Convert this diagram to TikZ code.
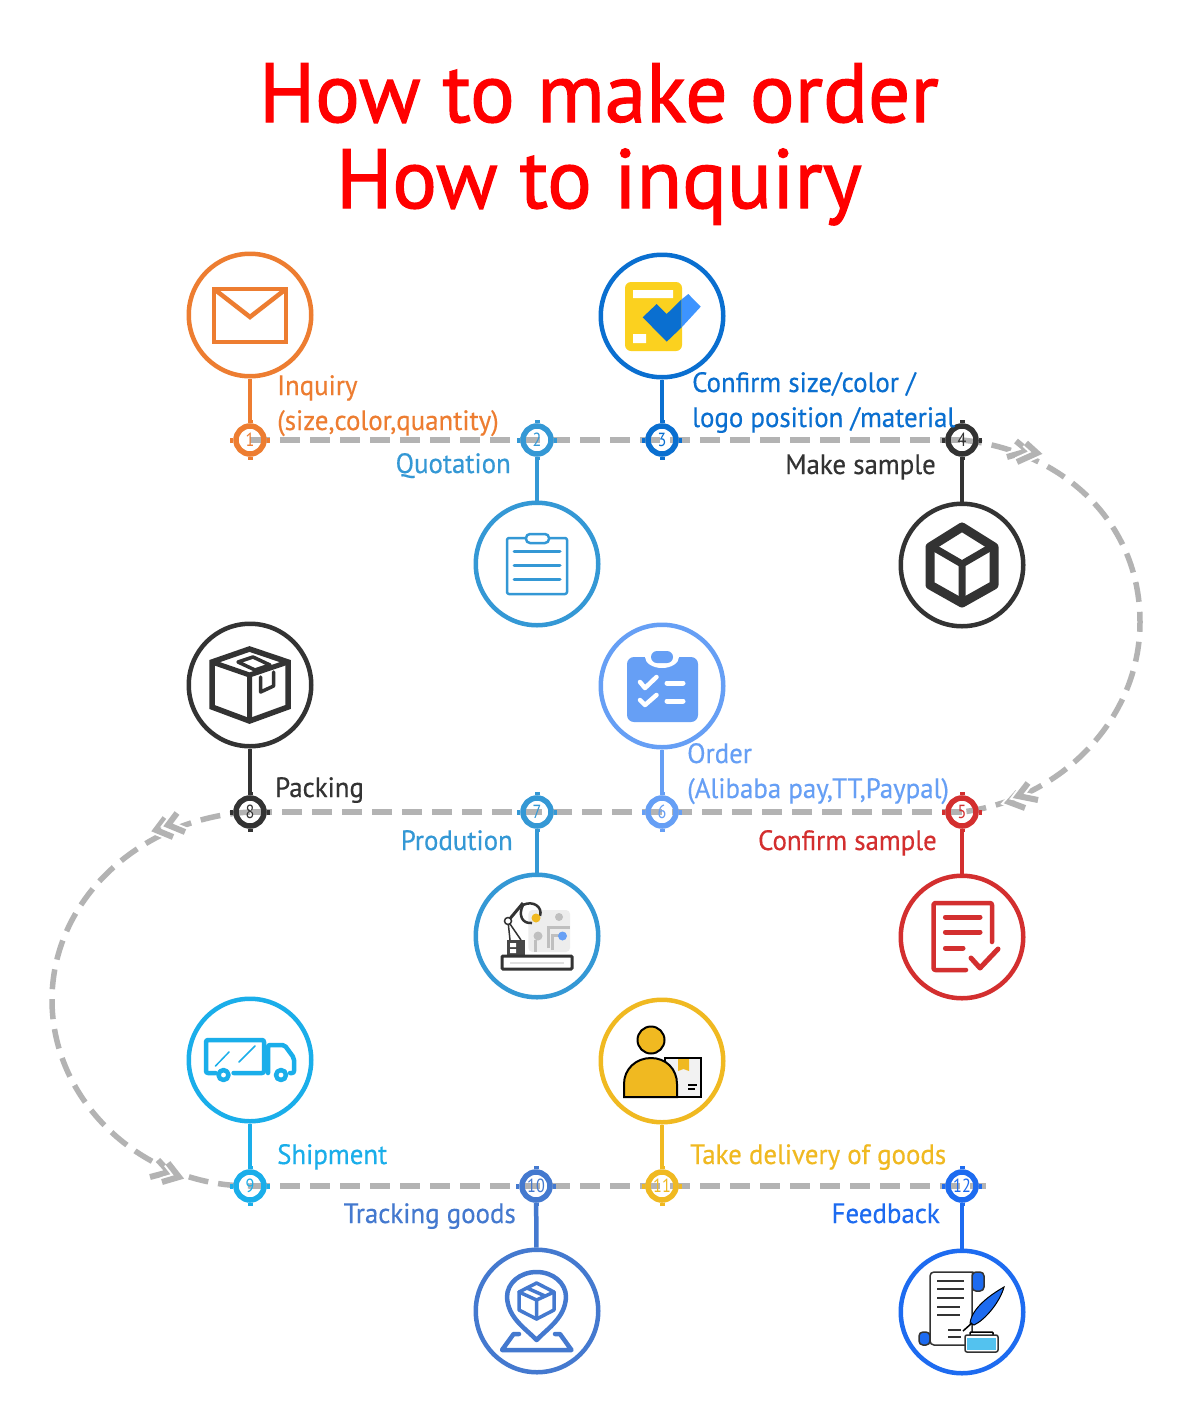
\documentclass[tikz,border=0pt]{standalone}
\usepackage{fontspec}
\setmainfont[FakeStretch=0.96,FakeBold=0.4]{PT Sans}
\newfontfamily\headfont[FakeStretch=0.994,FakeBold=1.4]{PT Sans}
\newfontfamily\numfont[FakeStretch=0.85]{PT Sans}
\definecolor{cOrange}{HTML}{ED7D31}
\definecolor{cSky}{HTML}{3498D5}
\definecolor{cRoyal}{HTML}{0A6FD0}
\definecolor{cDark}{HTML}{333333}
\definecolor{cRed}{HTML}{D32F2F}
\definecolor{cPale}{HTML}{669FF5}
\definecolor{cCyan}{HTML}{1AAEEA}
\definecolor{cSteel}{HTML}{4479CF}
\definecolor{cGold}{HTML}{F0B921}
\definecolor{cBright}{HTML}{1D6BF0}
\definecolor{cDash}{HTML}{B3B3B3}
\definecolor{cTitle}{HTML}{FF0000}
\definecolor{cFormY}{HTML}{FBD11F}
\definecolor{cFormB}{HTML}{3D94FF}
\tikzset{
  ring/.style={circle,draw=#1,line width=4.5pt,minimum size=122.5pt,inner sep=0pt},
  marker/.style={circle,draw=#1,line width=5.5pt,minimum size=28pt,inner sep=0pt,text=#1,font=\numfont\fontsize{19}{19}\selectfont},
  stem/.style={draw=#1,line width=4.5pt},
  track/.style={draw=cDash,line width=5.5pt,dash pattern=on 20pt off 10pt},
  chevron/.style={draw=cDash,line width=6pt,miter limit=10,preaction={draw=white,line width=10pt}},
  lab/.style={inner sep=0pt,text=#1,font=\fontsize{28}{28}\selectfont},
  titletext/.style={inner sep=0pt,text=cTitle,font=\headfont\fontsize{84}{84}\selectfont,anchor=base},
  icon/.style={draw=#1,line width=4pt,line join=round,line cap=round},
}
\newcommand{\ticks}[2]{\draw[#2,line width=5pt] (#1.north) -- ++(0,-3.5) (#1.south) -- ++(0,3.5) (#1.east) -- ++(3.5,0) (#1.west) -- ++(-3.5,0);}
\begin{document}
\begin{tikzpicture}[x=1pt,y=-1pt]
\useasboundingbox (0,0) rectangle (1200,1411);
\fill[white] (0,0) rectangle (1200,1411);
% track (below markers)
\coordinate (p1) at (250,440); \coordinate (p2) at (537,440); \coordinate (p3) at (662,440); \coordinate (p4) at (962,440);
\coordinate (p5) at (962,812); \coordinate (p6) at (662,812); \coordinate (p7) at (537,812); \coordinate (p8) at (250,812);
\coordinate (p9) at (250,1186); \coordinate (p10) at (536,1186); \coordinate (p11) at (662,1186); \coordinate (p12) at (962,1186);
\path[track] (p1) -- (p4);
\path[track] (p4) .. controls (1060,450) and (1140,520) .. (1140,622) .. controls (1140,720) and (1060,800) .. (p5);
\path[track] (p5) -- (p8);
\path[track] (p8) .. controls (140,818) and (52,900) .. (52,1000) .. controls (52,1100) and (140,1186) .. (p9);
\path[track] (p9) -- (986,1186);
% chevrons
\draw[chevron] (1016,441) -- (1028,451) -- (1007,457);
\draw[chevron] (1026,443) -- (1037,453) -- (1017,462);
\draw[chevron] (1018,792) -- (1009,802) -- (1025,808);
\draw[chevron] (1028,783) -- (1018,796) -- (1038,800);
\draw[chevron] (165,818) -- (156,830) -- (173,837);
\draw[chevron] (177,813) -- (168,825) -- (185,832);
\draw[chevron] (158,1160) -- (169,1172) -- (150,1177);
\draw[chevron] (168,1163) -- (179,1177) -- (162,1182);
% markers
\node[marker=cOrange] (m1) at (p1) {1};
\node[marker=cSky] (m2) at (p2) {2};
\node[marker=cRoyal] (m3) at (p3) {3};
\node[marker=cDark] (m4) at (p4) {4};
\node[marker=cRed] (m5) at (p5) {5};
\node[marker=cPale] (m6) at (p6) {6};
\node[marker=cSky] (m7) at (p7) {7};
\node[marker=cDark] (m8) at (p8) {8};
\node[marker=cCyan] (m9) at (p9) {9};
\node[marker=cSteel] (m10) at (p10) {10};
\node[marker=cGold] (m11) at (p11) {11};
\node[marker=cBright] (m12) at (p12) {12};
\ticks{m1}{cOrange}\ticks{m2}{cSky}\ticks{m3}{cRoyal}\ticks{m4}{cDark}\ticks{m5}{cRed}\ticks{m6}{cPale}
\ticks{m7}{cSky}\ticks{m8}{cDark}\ticks{m9}{cCyan}\ticks{m10}{cSteel}\ticks{m11}{cGold}\ticks{m12}{cBright}
% rings
\node[ring=cOrange] (c1) at (250,315) {};
\node[ring=cSky] (c2) at (537,564) {};
\node[ring=cRoyal] (c3) at (662,316) {};
\node[ring=cDark] (c4) at (962,565) {};
\node[ring=cRed] (c5) at (962,937) {};
\node[ring=cPale] (c6) at (662,686) {};
\node[ring=cSky] (c7) at (537,936) {};
\node[ring=cDark] (c8) at (250,685) {};
\node[ring=cCyan] (c9) at (250,1060) {};
\node[ring=cSteel] (c10) at (537,1311) {};
\node[ring=cGold] (c11) at (662,1061) {};
\node[ring=cBright] (c12) at (962,1312) {};
% stems
\draw[stem=cOrange] (c1) -- (m1);
\draw[stem=cSky] (c2) -- (m2);
\draw[stem=cRoyal] (c3) -- (m3);
\draw[stem=cDark] (c4) -- (m4);
\draw[stem=cRed] (c5) -- (m5);
\draw[stem=cPale] (c6) -- (m6);
\draw[stem=cSky] (c7) -- (m7);
\draw[stem=cDark] (c8) -- (m8);
\draw[stem=cCyan] (c9) -- (m9);
\draw[stem=cSteel] (c10) -- (m10);
\draw[stem=cGold] (c11) -- (m11);
\draw[stem=cBright] (c12) -- (m12);
% title
\node[titletext] (t1) at (599,122) {How to make order};
\node[titletext] (t2) at (599,208) {How to inquiry};
% labels
\node[lab=cOrange,anchor=base west] (l1a) at (277,395) {Inquiry};
\node[lab=cOrange,anchor=base west] (l1b) at (277,430) {(size,color,quantity)};
\node[lab=cSky,anchor=base east] (l2) at (511,473) {Quotation};
\node[lab=cRoyal,anchor=base west] (l3a) at (692,392) {Confirm size/color /};
\node[lab=cRoyal,anchor=base west] (l3b) at (692,427) {logo position /material};
\node[lab=cDark,anchor=base east] (l4) at (936,474) {Make sample};
\node[lab=cRed,anchor=base east] (l5) at (937,850) {Confirm sample};
\node[lab=cPale,anchor=base west] (l6a) at (687,763) {Order};
\node[lab=cPale,anchor=base west] (l6b) at (687,798) {(Alibaba pay,TT,Paypal)};
\node[lab=cSky,anchor=base east] (l7) at (513,850) {Prodution};
\node[lab=cDark,anchor=base west] (l8) at (275,797) {Packing};
\node[lab=cCyan,anchor=base west] (l9) at (277,1164) {Shipment};
\node[lab=cSteel,anchor=base east] (l10) at (516,1223) {Tracking goods};
\node[lab=cGold,anchor=base west] (l11) at (690,1164) {Take delivery of goods};
\node[lab=cBright,anchor=base east] (l12) at (940,1223) {Feedback};
% icon 1 envelope
\draw[icon=cOrange,line width=4.5pt,line cap=butt,line join=miter] (214,289) rectangle (286,342);
\draw[icon=cOrange,line width=4.5pt,line cap=butt,line join=miter] (214,289) -- (250,317) -- (286,289);
% icon 2 clipboard
\draw[icon=cSky,line width=2.5pt,rounded corners=2pt] (507,538) rectangle (567,594);
\draw[icon=cSky,line width=2.5pt,fill=white,rounded corners=4pt] (526,534) rectangle (549,543);
\draw[icon=cSky,line width=3pt] (514,551) -- (560,551) (514,565) -- (560,565) (514,579) -- (560,579);
% icon 3 form
\fill[fill=cFormY,rounded corners=6pt] (625,282) rectangle (682,351);
\fill[white] (633,290) rectangle (673,298) (633,334) rectangle (646,343);
\fill[fill=cRoyal] (642.7,317.3) -- (656.7,304) -- (666.7,314) -- (681.7,299.3) -- (681.7,327.3) -- (666.7,341.7) -- cycle;
\fill[fill=cFormB] (681.7,299.3) -- (688.3,294) -- (700.7,306.7) -- (681.7,327.3) -- cycle;
% icon 4 cube
\draw[icon=cDark,line width=9pt] (962,527) -- (994,547) -- (994,585) -- (962,603) -- (930,585) -- (930,547) -- cycle;
\draw[icon=cDark,line width=7pt] (931,546) -- (962,564) -- (993,546) (962,564) -- (962,602);
% icon 5 document
\draw[icon=cRed,line width=4.5pt,rounded corners=2pt] (992,942) -- (992,903) -- (933.5,903) -- (933.5,970) -- (966,970);
\draw[icon=cRed,line width=5pt] (945.4,917) -- (980,917) (945.4,932) -- (980,932) (945.4,948) -- (963,948);
\draw[icon=cRed,line width=5pt] (971,958) -- (980,968) -- (998,949);
% icon 6 clipboard with checks
\fill[fill=cPale,rounded corners=7pt] (627,657) rectangle (698,722);
\fill[white] (662,657) ellipse[x radius=17,y radius=11];
\fill[fill=cPale,rounded corners=6pt] (651,651) rectangle (673,663);
\draw[icon=white,line width=4.5pt] (640,682) -- (645,688) -- (656.5,677) (640,700) -- (645,705) -- (656.5,695);
\draw[icon=white,line width=5pt] (667,683) -- (683,683) (667,701) -- (683,701);
% icon 7 robot
\fill[fill=black!7,rounded corners=4pt] (528.4,910) rectangle (570,952);
\fill[black!25] (559,917) circle[radius=4] (538,936) circle[radius=4.5];
\draw[black!25,line width=3pt] (548,948) -- (548,927) -- (570,927) (552.5,950) -- (552.5,935) -- (560,935) (535,952) -- (535,940);
\fill[fill=cDark!90!white] (507,940) rectangle (525,956);
\fill[white] (510,943) rectangle (516,947) (510,949) rectangle (516,953);
\draw[draw=cDark,fill=white,line width=3pt,rounded corners=1pt] (502,956) rectangle (572,969);
\draw[black!12,line width=2pt] (510,962.5) -- (564,962.5);
\draw[cDark,line width=1.5pt] (508,921) -- (510,940) (508,921) -- (521,940);
\draw[cDark,line width=3pt] (508,921) -- (523,903);
\draw[cDark,fill=white,line width=1.5pt] (508,921) circle[radius=3.5];
\draw[cDark,line width=2.5pt] (523,905) .. controls (533,900) and (543,907) .. (540,916) (523,905) .. controls (518,915) and (522,924) .. (532,923);
\fill[fill=cGold] (536,918) circle[radius=4.5];
\fill[fill=cPale] (562.5,936) circle[radius=4.5];
% icon 8 parcel
\draw[icon=cDark,line width=5.5pt,line cap=butt,line join=miter] (249.5,649) -- (288,662) -- (288,707) -- (249.5,721) -- (212,707) -- (212,662) -- cycle;
\draw[icon=cDark,line width=5pt,line cap=butt] (212,662) -- (249.5,675) -- (288,662) (249.5,675) -- (249.5,721);
\draw[icon=cDark,line width=3.5pt] (238,662) -- (253,657) -- (270,665) -- (255,670) -- cycle;
\draw[icon=cDark,line width=3.5pt] (260.6,677) -- (260.6,692) -- (273.6,686) -- (273.6,672);
% icon 9 truck
\draw[icon=cCyan,line width=4.5pt,rounded corners=2pt] (233.6,1073) -- (264,1073) -- (264,1040) -- (206,1040) -- (206,1073) -- (215.5,1073);
\draw[icon=cCyan,line width=4.5pt,rounded corners=2pt] (268,1073) -- (268,1045) -- (284.5,1045) -- (294,1058) -- (294,1073) -- (290,1073);
\draw[icon=cCyan,line width=4.5pt] (223.5,1075) circle[radius=5] (281,1075) circle[radius=5];
\draw[icon=cCyan,line width=1.5pt] (215.5,1066) -- (229,1052) (239,1062) -- (255,1046);
% icon 10 pin
\draw[icon=cSteel,line width=4.5pt] (536.6,1340) .. controls (525,1328) and (508,1318) .. (507,1297) .. controls (507,1283) and (520,1272) .. (536.6,1272) .. controls (553,1272) and (566,1283) .. (566,1297) .. controls (565,1318) and (548,1328) .. (536.6,1340) -- cycle;
\draw[icon=cSteel,line width=3.5pt] (536.6,1283) -- (554,1292) -- (554,1310) -- (536.6,1319) -- (519,1310) -- (519,1292) -- cycle;
\draw[icon=cSteel,line width=3.5pt] (519,1292) -- (536.6,1300) -- (554,1292) (536.6,1300) -- (536.6,1319) (527,1288) -- (545,1296);
\draw[icon=cSteel,line width=4.5pt] (519,1334) -- (513.6,1334) -- (502,1350) -- (571.5,1350) -- (560,1334) -- (555,1334);
% icon 11 person
\draw[draw=black,fill=black!5,line width=2pt] (664.5,1058) rectangle (701,1097);
\fill[fill=cGold] (678,1059) -- (689,1059) -- (689,1071) -- (683.5,1069) -- (678,1071) -- cycle;
\draw[black,line width=1.5pt] (688,1085) -- (697,1085) (688,1089) -- (695,1089);
\draw[draw=black,fill=cGold,line width=2pt] (624,1097) -- (624,1084) .. controls (624,1069) and (636,1058) .. (651,1058) .. controls (666,1058) and (677,1069) .. (677,1084) -- (677,1097) -- cycle;
\draw[draw=black,fill=cGold,line width=2pt] (651,1040) circle[radius=13.5];
% icon 12 scroll
\draw[draw=black!80,fill=cBright,line width=1.5pt,rounded corners=4pt] (972,1272) -- (984,1272) -- (984,1291) -- (972,1291) -- cycle;
\draw[draw=black!80,fill=cBright,line width=1.5pt,rounded corners=4pt] (919,1332) -- (930,1332) -- (930,1345) -- (919,1345) -- cycle;
\draw[draw=black!80,fill=white,line width=1.5pt,rounded corners=4pt] (930,1345) -- (930,1272) -- (976,1272) .. controls (972,1274) and (972,1278) .. (972,1282) -- (972,1345) -- cycle;
\draw[black!80,line width=1.5pt] (937,1281) -- (964,1281) (937,1289) -- (964,1289) (937,1298) -- (964,1298) (937,1307) -- (959.5,1307) (937,1315) -- (959.5,1315) (948,1330) -- (961,1330) (948,1337) -- (961,1337);
\draw[draw=black,fill=cBright,line width=1pt] (970,1323) .. controls (972,1308) and (990,1295) .. (1004,1287) .. controls (1000,1302) and (985,1320) .. (974,1325) -- cycle;
\draw[black,line width=1.5pt] (963,1331) -- (972,1323);
\draw[draw=black,fill=white,line width=1.5pt,rounded corners=1pt] (970,1332) rectangle (993,1336);
\draw[draw=black!80,fill=white,line width=1.5pt,rounded corners=2pt] (965,1335) rectangle (998,1352);
\fill[fill=cCyan!75!white] (967,1338) rectangle (996,1350);
\end{tikzpicture}
\end{document}
